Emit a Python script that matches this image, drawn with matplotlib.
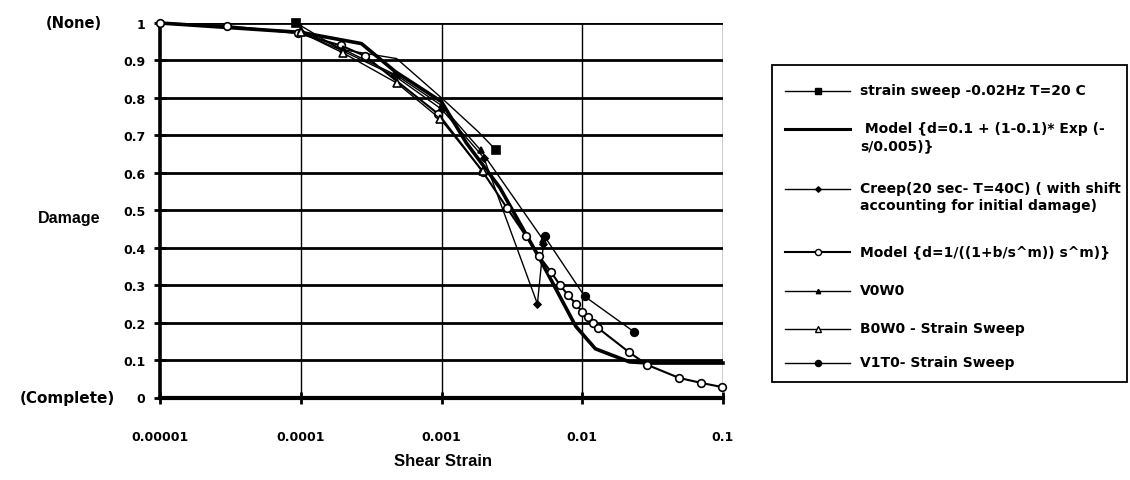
import matplotlib
matplotlib.use("Agg")
import matplotlib.pyplot as plt
from matplotlib.lines import Line2D
from matplotlib.patches import Rectangle

plt.rcParams['font.family'] = ['Liberation Sans', 'DejaVu Sans']
plt.rcParams['font.weight'] = 'bold'
WIDE = ['DejaVu Sans']

# ---- data ----
sweep_x = [9.3e-5, 1.9e-4, 4.8e-4, 1.0e-3, 1.82e-3, 2.45e-3]
sweep_y = [1.0, 0.93, 0.905, 0.80, 0.71, 0.66]

model_exp_x = [1e-5, 1e-4, 2.7e-4, 4.7e-4, 1e-3, 1.5e-3, 2.6e-3, 5e-3, 9e-3, 0.0124, 0.0217, 0.03, 0.1]
model_exp_y = [1.0, 0.975, 0.945, 0.87, 0.79, 0.68, 0.56, 0.37, 0.19, 0.13, 0.095, 0.092, 0.092]

creep_x = [1e-5, 1e-4, 2e-4, 4.6e-4, 1e-3, 2e-3, 4.8e-3, 5.3e-3]
creep_y = [1.0, 0.975, 0.925, 0.86, 0.77, 0.64, 0.25, 0.41]

model_pow_x = [1e-5, 3.0e-5, 9.5e-5, 1.93e-4, 2.86e-4, 9.5e-4, 1.97e-3, 2.92e-3, 3.98e-3, 4.93e-3,
               6.0e-3, 6.95e-3, 7.9e-3, 9.0e-3, 0.010, 0.011, 0.012, 0.0129, 0.0215, 0.029,
               0.049, 0.070, 0.098]
model_pow_y = [1.0, 0.992, 0.973, 0.94, 0.912, 0.757, 0.602, 0.506, 0.431, 0.378,
               0.335, 0.30, 0.274, 0.25, 0.228, 0.215, 0.199, 0.186, 0.121, 0.087,
               0.052, 0.039, 0.028]

v0w0_x = [1e-4, 2e-4, 4.8e-4, 1e-3, 1.9e-3, 5.3e-3]
v0w0_y = [0.98, 0.93, 0.86, 0.78, 0.66, 0.42]

b0w0_x = [1e-4, 2e-4, 4.8e-4, 9.8e-4, 1.96e-3]
b0w0_y = [0.975, 0.92, 0.84, 0.744, 0.605]

v1t0_x = [5.4e-3, 0.0104, 0.0234]
v1t0_y = [0.43, 0.27, 0.175]

x_ticks = [1e-5, 1e-4, 1e-3, 1e-2, 1e-1]
x_tick_labels = ['0.00001', '0.0001', '0.001', '0.01', '0.1']
y_ticks = [0, 0.1, 0.2, 0.3, 0.4, 0.5, 0.6, 0.7, 0.8, 0.9, 1.0]
y_tick_labels = ['0', '0.1', '0.2', '0.3', '0.4', '0.5', '0.6', '0.7', '0.8', '0.9', '1']

labels = ['strain sweep -0.02Hz T=20 C',
          ' Model {d=0.1 + (1-0.1)* Exp (-\ns/0.005)}',
          'Creep(20 sec- T=40C) ( with shift\naccounting for initial damage)',
          'Model {d=1/((1+b/s^m)) s^m)}',
          'V0W0',
          'B0W0 - Strain Sweep',
          'V1T0- Strain Sweep']

W, H = 1130, 481
fig = plt.figure(figsize=(W / 100, H / 100), dpi=100)
ax = fig.add_axes([160 / W, (H - 398.5) / H, (723 - 160) / W, (398.5 - 24) / H])
ax.set_xscale('log')
ax.set_xlim(1e-5, 0.1)
ax.set_ylim(0, 1)

# grid
for yv in y_ticks[1:]:
    ax.axhline(yv, color='black', lw=2.0, zorder=1)
for xv in x_ticks[1:]:
    ax.axvline(xv, color='black', lw=1.0, zorder=1)

k = 'black'
styles = [
    dict(x=sweep_x, y=sweep_y, lw=1.0, marker='s', ms=6, mfc=k, mec=k, every=[0, len(sweep_x) - 1]),
    dict(x=model_exp_x, y=model_exp_y, lw=2.6, marker=None, ms=0, mfc=k, mec=k, every=None),
    dict(x=creep_x, y=creep_y, lw=1.0, marker='D', ms=3.5, mfc=k, mec=k, every=None),
    dict(x=model_pow_x, y=model_pow_y, lw=1.5, marker='o', ms=5.5, mfc='white', mec=k, every=None),
    dict(x=v0w0_x, y=v0w0_y, lw=1.0, marker='^', ms=4, mfc=k, mec=k, every=None),
    dict(x=b0w0_x, y=b0w0_y, lw=1.0, marker='^', ms=6, mfc='white', mec=k, every=None),
    dict(x=v1t0_x, y=v1t0_y, lw=1.0, marker='o', ms=5.5, mfc=k, mec=k, every=None),
]
for s in styles:
    ax.plot(s['x'], s['y'], color=k, lw=s['lw'], marker=s['marker'], ms=s['ms'],
            mfc=s['mfc'], mec=s['mec'], mew=1.2, markevery=s['every'], zorder=3, clip_on=False)

for side in ['top', 'right']:
    ax.spines[side].set_visible(False)
ax.spines['left'].set_linewidth(2.6)
ax.spines['bottom'].set_linewidth(3.0)

ax.set_xticks(x_ticks)
ax.set_xticklabels(x_tick_labels, fontsize=9, fontweight='bold', family=WIDE)
ax.minorticks_off()
ax.set_yticks(y_ticks)
ax.set_yticklabels(y_tick_labels, fontsize=9, fontweight='bold', family=WIDE)
ax.tick_params(axis='x', direction='inout', length=9, width=2, pad=19)
ax.tick_params(axis='y', direction='inout', length=9, width=2, pad=6)

ax.text(-0.104, 1.0, '(None)', transform=ax.transAxes, ha='right', va='center',
        fontsize=10.5, fontweight='bold', family=WIDE)
ax.text(-0.08, 0.0, '(Complete)', transform=ax.transAxes, ha='right', va='center',
        fontsize=11, fontweight='bold', family=WIDE)

fig.text(69 / W, 1 - 218 / H, 'Damage', ha='center', va='center', fontsize=11.5, fontweight='bold')
fig.text(443 / W, 1 - 462 / H, 'Shear Strain', ha='center', va='center', fontsize=12,
         fontweight='bold')

# legend (manual)
fig.patches.append(Rectangle((772 / W, 1 - 383 / H), (1127 - 772) / W, (383 - 66) / H,
                             transform=fig.transFigure, fill=False, ec='black', lw=1.3))
entry_y = [92, 130, 190, 253, 292, 330, 364]
for s, lab, yy in zip(styles, labels, entry_y):
    yf = 1 - yy / H
    fig.add_artist(Line2D([785 / W, 850 / W], [yf, yf], transform=fig.transFigure,
                          color=k, lw=min(s['lw'], 2.2)))
    if s['marker']:
        fig.add_artist(Line2D([818 / W], [yf], transform=fig.transFigure, color=k,
                              marker=s['marker'], ms=s['ms'] * 0.8, mfc=s['mfc'], mec=s['mec'],
                              mew=1.0, lw=0))
    fig.text(860 / W, yf + 8 / H, lab, ha='left', va='top', fontsize=10, fontweight='bold',
             linespacing=1.3, family=WIDE)

fig.savefig('out.png', dpi=100)
